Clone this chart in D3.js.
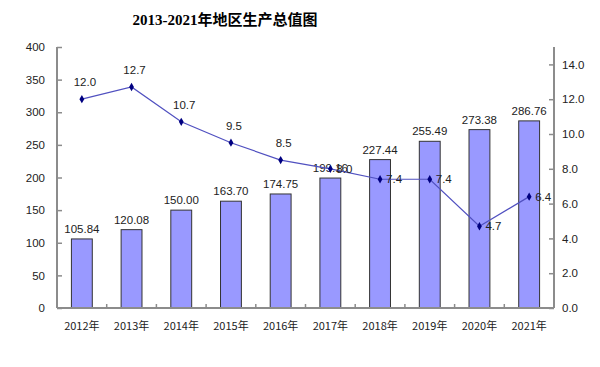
<!DOCTYPE html>
<html>
<head>
<meta charset="utf-8">
<script src="https://cdn.jsdelivr.net/npm/d3@7"></script>
<style>
  html, body { margin: 0; padding: 0; background: #fff; }
</style>
</head>
<body>
<div id="chart"></div>
<script>
// chart data
const years = ["2012年", "2013年", "2014年", "2015年", "2016年", "2017年", "2018年", "2019年", "2020年", "2021年"];
const gdpValues = [105.84, 120.08, 150.00, 163.70, 174.75, 199.16, 227.44, 255.49, 273.38, 286.76];
const growthRates = [12.0, 12.7, 10.7, 9.5, 8.5, 8.0, 7.4, 7.4, 4.7, 6.4];
const leftTicks = [0, 50, 100, 150, 200, 250, 300, 350, 400];
const rightTicks = [0, 2, 4, 6, 8, 10, 12, 14];
// which line labels sit to the right of the point instead of above it
const labelRight = [false, false, false, false, false, true, true, true, true, true];

const width = 600;
const height = 367;
const margin = { top: 47, right: 46, bottom: 59, left: 57 };
const plotW = width - margin.left - margin.right;
const plotH = height - margin.top - margin.bottom;

const svg = d3.select("#chart").append("svg")
    .attr("width", width)
    .attr("height", height)
    .style("font-family", "Arial, 'Liberation Sans', sans-serif");

svg.append("text")
    .attr("x", 225)
    .attr("y", 25)
    .attr("text-anchor", "middle")
    .attr("font-family", "'Liberation Serif', 'Noto Sans CJK SC', serif")
    .attr("font-weight", "bold")
    .attr("font-size", 15)
    .attr("fill", "#000")
    .text("2013-2021年地区生产总值图");

const g = svg.append("g")
    .attr("transform", `translate(${margin.left},${margin.top})`);

const x = d3.scaleBand()
    .domain(years)
    .range([0, plotW])
    .paddingInner(0.58)
    .paddingOuter(0.29);

const yLeft = d3.scaleLinear().domain([0, 400]).range([plotH, 0]);
const yRight = d3.scaleLinear().domain([0, 15]).range([plotH, 0]);

// bars
g.selectAll("rect.bar")
    .data(gdpValues)
    .join("rect")
    .attr("class", "bar")
    .attr("x", (d, i) => x(years[i]))
    .attr("y", d => yLeft(d))
    .attr("width", x.bandwidth())
    .attr("height", d => plotH - yLeft(d))
    .attr("fill", "#9999ff")
    .attr("stroke", "#333")
    .attr("stroke-width", 1);

g.selectAll("text.barLabel")
    .data(gdpValues)
    .join("text")
    .attr("class", "barLabel")
    .attr("x", (d, i) => x(years[i]) + x.bandwidth() / 2)
    .attr("y", d => yLeft(d) - 6)
    .attr("text-anchor", "middle")
    .attr("font-size", 11.5)
    .attr("fill", "#222")
    .text(d => d.toFixed(2));

// axes
const axisColor = "#8c8c8c";

const leftAxis = g.append("g")
    .call(d3.axisLeft(yLeft).tickValues(leftTicks).tickSize(-5).tickPadding(12).tickFormat(d3.format("d")));
leftAxis.selectAll("text").attr("font-size", 11.5).attr("fill", "#222").attr("font-family", "Arial, 'Liberation Sans', sans-serif");

const rightAxis = g.append("g")
    .attr("transform", `translate(${plotW},0)`)
    .call(d3.axisRight(yRight).tickValues(rightTicks).tickSize(-5).tickPadding(8).tickFormat(d3.format(".1f")));
rightAxis.selectAll("text").attr("font-size", 11.5).attr("fill", "#222").attr("font-family", "Arial, 'Liberation Sans', sans-serif");

const bottomAxis = g.append("g")
    .attr("transform", `translate(0,${plotH})`)
    .call(d3.axisBottom(x).tickSize(0).tickPadding(14));
bottomAxis.selectAll("text").attr("font-size", 11).attr("fill", "#222")
    .attr("font-family", "'Noto Sans CJK SC', sans-serif");

// inward ticks between categories
const step = x.step();
g.append("g").selectAll("line")
    .data(d3.range(1, years.length))
    .join("line")
    .attr("x1", d => d * step)
    .attr("x2", d => d * step)
    .attr("y1", plotH)
    .attr("y2", plotH - 4)
    .attr("stroke", axisColor)
    .attr("stroke-width", 1.5);

[leftAxis, rightAxis, bottomAxis].forEach(a => {
    a.select(".domain").attr("stroke", axisColor).attr("stroke-width", 2);
    a.selectAll(".tick line").attr("stroke", axisColor).attr("stroke-width", 1.5);
});
leftAxis.select(".domain").attr("d", `M0,0V${plotH}`);
rightAxis.select(".domain").attr("d", `M0,0V${plotH}`);
bottomAxis.select(".domain").attr("d", `M0,0H${plotW}`);

// growth line
const cx = i => x(years[i]) + x.bandwidth() / 2;
const line = d3.line()
    .x((d, i) => cx(i))
    .y(d => yRight(d));

g.append("path")
    .datum(growthRates)
    .attr("d", line)
    .attr("fill", "none")
    .attr("stroke", "#5050c0")
    .attr("stroke-width", 1.2);

g.selectAll("path.marker")
    .data(growthRates)
    .join("path")
    .attr("class", "marker")
    .attr("d", d3.symbol().type(d3.symbolDiamond).size(20))
    .attr("transform", (d, i) => `translate(${cx(i)},${yRight(d)})`)
    .attr("fill", "#000080");

g.selectAll("text.lineLabel")
    .data(growthRates)
    .join("text")
    .attr("class", "lineLabel")
    .attr("x", (d, i) => labelRight[i] ? cx(i) + 6 : cx(i) + 3)
    .attr("y", (d, i) => labelRight[i] ? yRight(d) + 4 : yRight(d) - 13)
    .attr("text-anchor", (d, i) => labelRight[i] ? "start" : "middle")
    .attr("font-size", 11.5)
    .attr("fill", "#222")
    .text(d => d.toFixed(1));
</script>
</body>
</html>
